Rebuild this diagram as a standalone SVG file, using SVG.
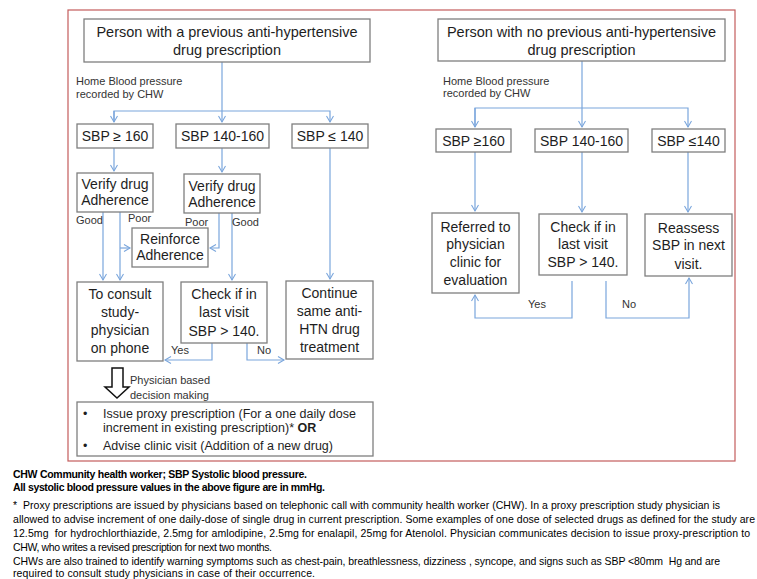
<svg xmlns="http://www.w3.org/2000/svg" width="757" height="579" viewBox="0 0 757 579">
<style>
.bx{fill:#fff;stroke:#7f7f7f;stroke-width:1.3}
.t{font-family:"Liberation Sans",Arial,sans-serif;font-size:14px;fill:#1e1e1e;text-anchor:middle}
.th{font-size:14.5px}
.s{font-family:"Liberation Sans",Arial,sans-serif;font-size:11px;fill:#333}
.c{fill:none;stroke:#7aa6dc;stroke-width:1.2}
.b{font-family:"Liberation Sans",Arial,sans-serif;font-size:12.5px;fill:#1e1e1e}
.f{font-family:"Liberation Sans",Arial,sans-serif;font-size:10.5px;fill:#000}
.fb{font-weight:bold}
</style>
<defs>
<marker id="ar" markerUnits="userSpaceOnUse" markerWidth="10" markerHeight="10" viewBox="-7 -5 8 10" refX="0" refY="0" orient="auto">
<path d="M-6,-3.5 L0,0 L-6,3.5" fill="none" stroke="#7aa6dc" stroke-width="1.1"/>
</marker>
</defs>
<rect width="757" height="579" fill="#fff"/>
<rect id="frame" x="68" y="10" width="667" height="451" fill="none" stroke="#c45c5c" stroke-width="1.2"/>

<g id="connectors">
<path class="c" d="M222,62 V122" marker-end="url(#ar)"/>
<path class="c" d="M114,122 V111 H330 V122" marker-end="url(#ar)"/>
<path class="c" d="M114,111 V122" marker-end="url(#ar)"/>
<path class="c" d="M114,148 V171" marker-end="url(#ar)"/>
<path class="c" d="M222,148 V172" marker-end="url(#ar)"/>
<path class="c" d="M330,148 V279" marker-end="url(#ar)"/>
<path class="c" d="M103,212 V280" marker-end="url(#ar)"/>
<path class="c" d="M120,212 V280" marker-end="url(#ar)"/>
<path class="c" d="M120,248 H130" marker-end="url(#ar)"/>
<path class="c" d="M219,213 V248 H210" marker-end="url(#ar)"/>
<path class="c" d="M232,213 V280" marker-end="url(#ar)"/>
<path class="c" d="M212,343 V360 H165" marker-end="url(#ar)"/>
<path class="c" d="M247,343 V360 H284" marker-end="url(#ar)"/>
<path class="c" d="M582,61 V127" marker-end="url(#ar)"/>
<path class="c" d="M475,127 V108 H688 V127" marker-end="url(#ar)"/>
<path class="c" d="M475,108 V127" marker-end="url(#ar)"/>
<path class="c" d="M475,152 V211" marker-end="url(#ar)"/>
<path class="c" d="M582,152 V212" marker-end="url(#ar)"/>
<path class="c" d="M688,152 V212" marker-end="url(#ar)"/>
<path class="c" d="M572,281 V318 H475 V295" marker-end="url(#ar)"/>
<path class="c" d="M606,281 V318 H689 V278" marker-end="url(#ar)"/>
</g>

<g id="conn-labels">
<text class="s" x="76" y="85">Home Blood pressure</text>
<text class="s" x="76" y="98">recorded by CHW</text>
<text class="s" x="443" y="85">Home Blood pressure</text>
<text class="s" x="443" y="97">recorded by CHW</text>
<text class="s" x="76" y="224">Good</text>
<text class="s" x="128" y="222">Poor</text>
<text class="s" x="185" y="226">Poor</text>
<text class="s" x="232" y="226">Good</text>
<text class="s" x="171" y="354">Yes</text>
<text class="s" x="257" y="354">No</text>
<text class="s" x="528" y="308">Yes</text>
<text class="s" x="622" y="308">No</text>
<text class="s" x="130" y="384">Physician based</text>
<text class="s" x="130" y="399">decision making</text>
</g>

<g id="n-prev">
<rect class="bx" x="84" y="19" width="286" height="43"/>
<text class="t th" x="227" y="37">Person with a previous anti-hypertensive</text>
<text class="t th" x="227" y="55">drug prescription</text>
</g>
<g id="n-l160">
<rect class="bx" x="77" y="124" width="76" height="24"/>
<text class="t" x="115" y="141">SBP ≥ 160</text>
</g>
<g id="n-l140160">
<rect class="bx" x="176" y="124" width="93" height="24"/>
<text class="t" x="222.5" y="141">SBP 140-160</text>
</g>
<g id="n-l140">
<rect class="bx" x="292" y="124" width="76" height="24"/>
<text class="t" x="330" y="141">SBP ≤ 140</text>
</g>
<g id="n-verify1">
<rect class="bx" x="77" y="173" width="76" height="39"/>
<text class="t" x="115" y="189">Verify drug</text>
<text class="t" x="115" y="205">Adherence</text>
</g>
<g id="n-verify2">
<rect class="bx" x="184" y="174" width="76" height="39"/>
<text class="t" x="222" y="191">Verify drug</text>
<text class="t" x="222" y="207">Adherence</text>
</g>
<g id="n-reinforce">
<rect class="bx" x="132" y="228" width="76" height="39"/>
<text class="t" x="170" y="244">Reinforce</text>
<text class="t" x="170" y="260">Adherence</text>
</g>
<g id="n-consult">
<rect class="bx" x="77" y="282" width="86" height="79"/>
<text class="t" x="120" y="299">To consult</text>
<text class="t" x="120" y="317">study-</text>
<text class="t" x="120" y="335">physician</text>
<text class="t" x="120" y="353">on phone</text>
</g>
<g id="n-check1">
<rect class="bx" x="181" y="282" width="86" height="61"/>
<text class="t" x="224" y="299">Check if in</text>
<text class="t" x="224" y="317">last visit</text>
<text class="t" x="224" y="336">SBP &gt; 140.</text>
</g>
<g id="n-continue">
<rect class="bx" x="286" y="281" width="87" height="78"/>
<text class="t" x="329.5" y="298">Continue</text>
<text class="t" x="329.5" y="316">same anti-</text>
<text class="t" x="329.5" y="334">HTN drug</text>
<text class="t" x="329.5" y="352">treatment</text>
</g>
<g id="n-bigarrow">
<path d="M112,368 H123 V387 H129 L117,398 L105,387 H112 Z" fill="#fff" stroke="#111" stroke-width="1.5"/>
</g>
<g id="n-decision">
<rect class="bx" x="77" y="402" width="296" height="54"/>
<text class="b" x="83" y="418">•</text>
<text class="b" x="103" y="418">Issue proxy prescription (For a one daily dose</text>
<text class="b" x="103" y="432">increment in existing prescription)* <tspan font-weight="bold">OR</tspan></text>
<text class="b" x="83" y="450">•</text>
<text class="b" x="103" y="450">Advise clinic visit (Addition of a new drug)</text>
</g>

<g id="n-noprev">
<rect class="bx" x="438" y="19" width="287" height="42"/>
<text class="t th" x="581.5" y="37">Person with no previous anti-hypertensive</text>
<text class="t th" x="581.5" y="55">drug prescription</text>
</g>
<g id="n-r160">
<rect class="bx" x="436" y="129" width="75" height="23"/>
<text class="t" x="473.5" y="146">SBP ≥160</text>
</g>
<g id="n-r140160">
<rect class="bx" x="535" y="129" width="93" height="23"/>
<text class="t" x="581.5" y="146">SBP 140-160</text>
</g>
<g id="n-r140">
<rect class="bx" x="652" y="129" width="73" height="23"/>
<text class="t" x="688.5" y="146">SBP ≤140</text>
</g>
<g id="n-referred">
<rect class="bx" x="432" y="213" width="87" height="80"/>
<text class="t" x="475.5" y="232">Referred to</text>
<text class="t" x="475.5" y="249">physician</text>
<text class="t" x="475.5" y="267">clinic for</text>
<text class="t" x="475.5" y="285">evaluation</text>
</g>
<g id="n-check2">
<rect class="bx" x="539" y="214" width="88" height="61"/>
<text class="t" x="583" y="232">Check if in</text>
<text class="t" x="583" y="249">last visit</text>
<text class="t" x="583" y="267">SBP &gt; 140.</text>
</g>
<g id="n-reassess">
<rect class="bx" x="645" y="214" width="87" height="62"/>
<text class="t" x="688.5" y="233">Reassess</text>
<text class="t" x="688.5" y="250">SBP in next</text>
<text class="t" x="688.5" y="269">visit.</text>
</g>

<g id="footnote">
<text class="f fb" x="13" y="478" textLength="294">CHW Community health worker; SBP Systolic blood pressure.</text>
<text class="f fb" x="13" y="491" textLength="312">All systolic blood pressure values in the above figure are in mmHg.</text>
<text class="f" x="13" y="509" textLength="707" style="white-space:pre">*  Proxy prescriptions are issued by physicians based on telephonic call with community health worker (CHW). In a proxy prescription study physician is</text>
<text class="f" x="13" y="523" textLength="742">allowed to advise increment of one daily-dose of single drug in current prescription. Some examples of one dose of selected drugs as defined for the study are</text>
<text class="f" x="13" y="537" textLength="737" style="white-space:pre">12.5mg  for hydrochlorthiazide, 2.5mg for amlodipine, 2.5mg for enalapil, 25mg for Atenolol. Physician communicates decision to issue proxy-prescription to</text>
<text class="f" x="13" y="551" textLength="259">CHW, who writes a revised prescription for next two months.</text>
<text class="f" x="13" y="565" textLength="707" style="white-space:pre">CHWs are also trained to identify warning symptoms such as chest-pain, breathlessness, dizziness , syncope, and signs such as SBP &lt;80mm  Hg and are</text>
<text class="f" x="13" y="577" textLength="302">required to consult study physicians in case of their occurrence.</text>
</g>
</svg>
